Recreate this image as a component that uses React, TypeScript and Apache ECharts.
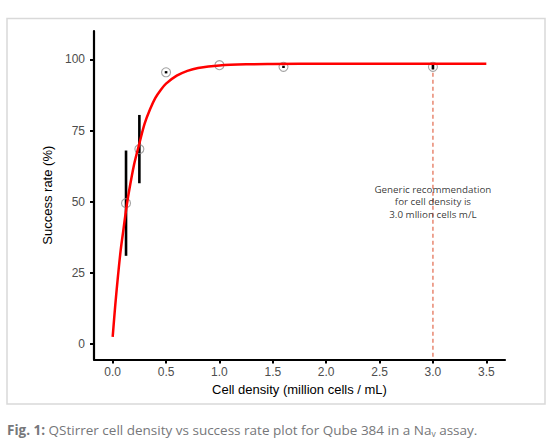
import React, { useEffect, useRef } from "react";
import * as echarts from "echarts";

// Fitted curve
const fitX = [0, 0.025, 0.05, 0.075, 0.1, 0.125, 0.15, 0.2, 0.25, 0.3, 0.35, 0.4, 0.45, 0.5, 0.6, 0.7, 0.8, 1.0, 1.25, 1.5, 2.0, 2.5, 3.0, 3.5];
const fitY = [2.5, 14, 24, 33, 40, 47, 53, 63, 70.5, 77.5, 82.5, 86.5, 89.3, 91.5, 94.3, 96, 97, 97.9, 98.3, 98.4, 98.5, 98.5, 98.5, 98.5];

// Measured points with error bars
const pointX = [0.125, 0.25, 0.5, 1.0, 1.6, 3.0];
const pointY = [49.5, 68.5, 95.5, 98.0, 97.4, 97.4];
const errLow = [31, 56.5, 95.1, 98.0, 97.0, 96.5];
const errHigh = [68, 80.5, 95.9, 98.0, 97.8, 98.3];

// Axis ticks
const xTicks = [0, 0.5, 1.0, 1.5, 2.0, 2.5, 3.0, 3.5];
const yTicks = [0, 25, 50, 75, 100];

// Recommendation marker
const recX = 3.0;
const recLineY = [-4.5, 96.6];
const recLabelY = 50;
const recText = ["Generic recommendation", "for cell density is", "3.0 mllion cells m/L"];

export default function App() {
  const ref = useRef<HTMLDivElement>(null);
  useEffect(() => {
    if (!ref.current) return;
    const chart = echarts.init(ref.current, null, { renderer: "svg" });
    const axisFont = "'Liberation Sans', Arial, sans-serif";
    const capFont = "'Open Sans', sans-serif";
    chart.setOption({
      animation: false,
      backgroundColor: "#ffffff",
      grid: { left: 94, right: 49, top: 31, bottom: 84.6, containLabel: false },
      xAxis: {
        type: "value",
        min: -0.175,
        max: 3.675,
        splitLine: { show: false },
        axisLine: { show: true, onZero: false, lineStyle: { color: "#000", width: 2.2 } },
        axisTick: { show: true, length: 4, customValues: xTicks, lineStyle: { color: "#000", width: 2 } },
        axisLabel: {
          customValues: xTicks,
          formatter: (v: number) => v.toFixed(1),
          color: "#4d4d4d",
          fontSize: 12,
          fontFamily: axisFont,
          margin: 7,
        },
        name: "Cell density (million cells / mL)",
        nameLocation: "middle",
        nameGap: 23,
        nameTextStyle: { color: "#000", fontSize: 13, fontFamily: axisFont },
      },
      yAxis: {
        type: "value",
        min: -5.4,
        max: 110,
        splitLine: { show: false },
        axisLine: { show: true, onZero: false, lineStyle: { color: "#000", width: 2.2 } },
        axisTick: { show: true, length: 4, customValues: yTicks, lineStyle: { color: "#000", width: 2 } },
        axisLabel: {
          customValues: yTicks,
          color: "#4d4d4d",
          fontSize: 12,
          fontFamily: axisFont,
          margin: 9,
        },
        name: "Success rate (%)",
        nameLocation: "middle",
        nameGap: 24,
        nameTextStyle: { color: "#000", fontSize: 13, fontFamily: axisFont },
      },
      series: [
        {
          type: "line",
          data: recLineY.map((y) => [recX, y]),
          symbol: "none",
          lineStyle: { color: "#e2684c", width: 1.2, type: [4, 3] },
          z: 1,
        },
        {
          type: "custom",
          data: pointX.map((x, i) => [x, errLow[i], errHigh[i]]),
          renderItem: (params: any, api: any) => {
            const x = api.value(0);
            const lo = api.value(1);
            const hi = api.value(2);
            if (hi - lo <= 0) return null;
            const p1 = api.coord([x, lo]);
            const p2 = api.coord([x, hi]);
            return {
              type: "line",
              shape: { x1: p1[0], y1: p1[1], x2: p2[0], y2: p2[1] },
              style: { stroke: "#000", lineWidth: 2.6 },
            };
          },
          z: 2,
        },
        {
          type: "scatter",
          data: pointX.map((x, i) => [x, pointY[i]]),
          symbol: "circle",
          symbolSize: 9,
          itemStyle: { color: "rgba(0,0,0,0)", borderColor: "#8c8c8c", borderWidth: 1.1 },
          z: 3,
        },
        {
          type: "line",
          data: fitX.map((x, i) => [x, fitY[i]]),
          symbol: "none",
          smooth: 0.3,
          lineStyle: { color: "#ff0000", width: 2.5 },
          z: 4,
        },
        {
          type: "scatter",
          data: [[recX, recLabelY]],
          symbol: "circle",
          symbolSize: 0,
          silent: true,
          label: {
            show: true,
            position: "inside",
            formatter: recText.join("\n"),
            fontFamily: capFont,
            fontSize: 9.8,
            lineHeight: 12.6,
            color: "#000000",
            align: "center",
          },
          z: 5,
        },
      ],
      graphic: [
        {
          type: "rect",
          shape: { x: 7, y: 18.5, width: 538, height: 385.5 },
          style: { fill: "none", stroke: "#d9d9d9", lineWidth: 1.5 },
          silent: true,
          z: -1,
        },
        {
          type: "text",
          x: 7,
          y: 429.5,
          style: {
            text: "{b|Fig. 1:} QStirrer cell density vs success rate plot for Qube 384 in a Na{s|v} assay.",
            fontFamily: capFont,
            fontSize: 13.5,
            lineHeight: 16,
            fill: "#76777a",
            verticalAlign: "middle",
            rich: {
              b: { fontWeight: "bold", fontFamily: capFont, fontSize: 13.5, lineHeight: 16, fill: "#76777a" },
              s: { fontFamily: capFont, fontSize: 8.5, lineHeight: 9, verticalAlign: "bottom", fill: "#76777a" },
            },
          },
        },
      ],
    });
    return () => chart.dispose();
  }, []);
  return (
    <div
      ref={ref}
      style={{ position: "absolute", left: 0, top: 0, width: 554, height: 444 }}
    />
  );
}
